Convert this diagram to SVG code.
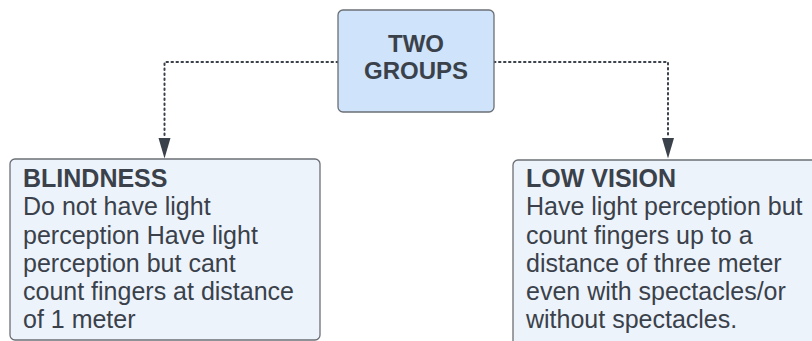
<svg xmlns="http://www.w3.org/2000/svg" width="812" height="341" viewBox="0 0 812 341">
<style>
.conn{fill:none;stroke:#3a414a;stroke-width:2;stroke-dasharray:1.5 3.5;stroke-linecap:round}
.box{stroke:#6b6f75;stroke-width:1.3}
.t{font-family:"Liberation Sans",Arial,sans-serif;fill:#3a414a;font-size:25px}
.b{font-weight:bold}
</style>
<defs>
<marker id="arr" viewBox="0 0 12 20" refX="6" refY="20" markerWidth="12" markerHeight="20" markerUnits="userSpaceOnUse" orient="auto-start-reverse">
<path d="M0,0 L12,0 L6,20 Z" fill="#3a414a"/>
</marker>
</defs>
<rect width="812" height="341" fill="#ffffff"/>
<g id="connectors">
<path class="conn" d="M338,62 H164.5 V138"/>
<path d="M158.5,138 L170.5,138 L164.5,158.5 Z" fill="#3a414a"/>
<path class="conn" d="M494,62 H668 V138"/>
<path d="M662,138 L674,138 L668,158.5 Z" fill="#3a414a"/>
<circle cx="338" cy="62" r="1.3" fill="#3a414a"/>
<circle cx="494" cy="62" r="1.3" fill="#3a414a"/>
</g>
<g id="two-groups">
<rect class="box" x="338" y="10" width="156" height="102" rx="5" fill="#cfe3fa"/>
<text class="t b" x="416" y="52" text-anchor="middle" font-size="24" style="font-size:24px">TWO</text>
<text class="t b" x="416" y="78.5" text-anchor="middle" style="font-size:24px">GROUPS</text>
</g>
<g id="blindness">
<rect class="box" x="10" y="159" width="310" height="181" rx="5" fill="#edf3fb"/>
<text class="t b" x="23" y="187">BLINDNESS</text>
<text class="t" x="23" y="215">Do not have light</text>
<text class="t" x="23" y="243.5">perception Have light</text>
<text class="t" x="23" y="272">perception but cant</text>
<text class="t" x="23" y="300">count fingers at distance</text>
<text class="t" x="23" y="328">of 1 meter</text>
</g>
<g id="low-vision">
<rect class="box" x="513" y="160" width="320" height="190" rx="5" fill="#edf3fb"/>
<text class="t b" x="526" y="187">LOW VISION</text>
<text class="t" x="526" y="215">Have light perception but</text>
<text class="t" x="526" y="243.5">count fingers up to a</text>
<text class="t" x="526" y="272">distance of three meter</text>
<text class="t" x="526" y="300">even with spectacles/or</text>
<text class="t" x="526" y="328">without spectacles.</text>
</g>
</svg>
